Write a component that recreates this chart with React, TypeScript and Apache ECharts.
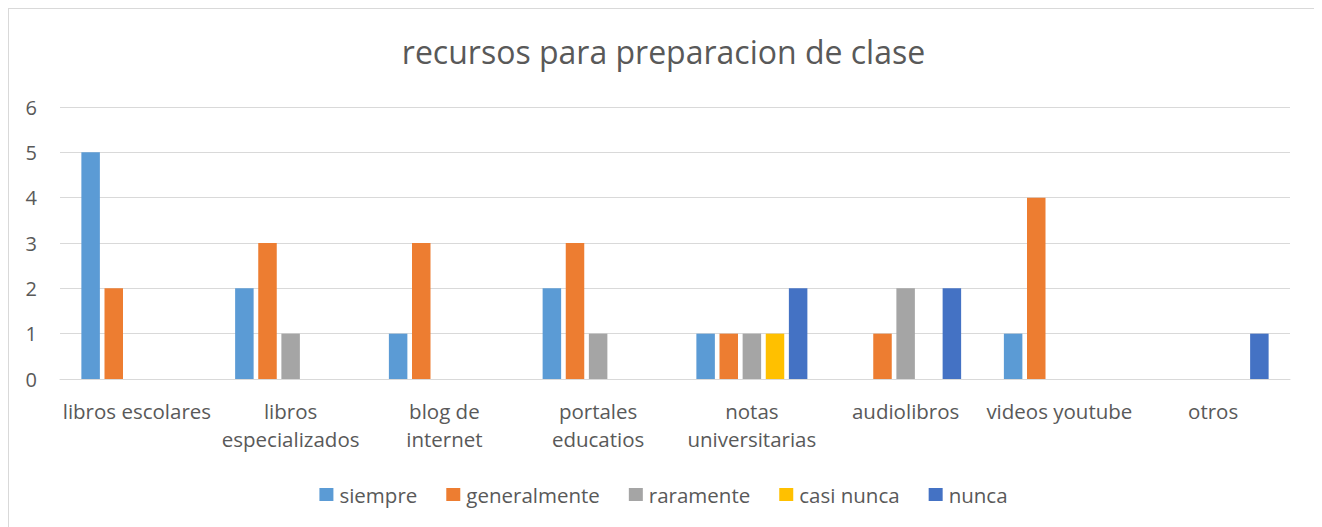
import React, { useEffect, useRef } from "react";
import * as echarts from "echarts";

const TITLE = "recursos para preparacion de clase";
const categories = [
  "libros escolares",
  "libros\nespecializados",
  "blog de\ninternet",
  "portales\neducatios",
  "notas\nuniversitarias",
  "audiolibros",
  "videos youtube",
  "otros",
];
const seriesNames = ["siempre", "generalmente", "raramente", "casi nunca", "nunca"];
const siempre = [5, 2, 1, 2, 1, 0, 1, 0];
const generalmente = [2, 3, 3, 3, 1, 1, 4, 0];
const raramente = [0, 1, 0, 1, 1, 2, 0, 0];
const casiNunca = [0, 0, 0, 0, 1, 0, 0, 0];
const nunca = [0, 0, 0, 0, 2, 2, 0, 1];
const colors = ["#5B9BD5", "#ED7D31", "#A5A5A5", "#FFC000", "#4472C4"];

const FONT = "'Open Sans', sans-serif";
const TEXT = "#595959";

export default function App() {
  const ref = useRef<HTMLDivElement>(null);
  useEffect(() => {
    document.body.style.overflow = "hidden";
    const chart = echarts.init(ref.current!, null, { renderer: "svg" });
    const values = [siempre, generalmente, raramente, casiNunca, nunca];
    chart.setOption({
      animation: false,
      color: colors,
      textStyle: { fontFamily: FONT },
      title: {
        text: TITLE,
        left: "center",
        top: 22,
        padding: 0,
        textStyle: { fontFamily: FONT, fontSize: 32, lineHeight: 40, fontWeight: "normal", color: TEXT },
      },
      legend: {
        top: 475,
        left: "center",
        padding: 0,
        itemWidth: 14,
        itemHeight: 13,
        itemGap: 29,
        icon: "rect",
        textStyle: { fontFamily: FONT, fontSize: 20.5, lineHeight: 20, color: TEXT, padding: [0, 0, 0, 1] },
        data: seriesNames,
      },
      grid: { left: 51, top: 98, width: 1230, height: 272, containLabel: false },
      xAxis: {
        type: "category",
        data: categories,
        axisLine: { lineStyle: { color: "#D9D9D9" } },
        axisTick: { show: false },
        axisLabel: { color: TEXT, fontSize: 20.5, fontFamily: FONT, lineHeight: 28, margin: 18, interval: 0 },
      },
      yAxis: {
        type: "value",
        min: 0,
        max: 6,
        interval: 1,
        axisLine: { show: false },
        axisTick: { show: false },
        splitLine: { lineStyle: { color: "#D9D9D9" } },
        axisLabel: { color: TEXT, fontSize: 20, fontFamily: FONT, margin: 23 },
      },
      series: seriesNames.map((name, i) => ({
        name,
        type: "bar",
        data: values[i],
        barWidth: 18.5,
        barGap: "25%",
        itemStyle: { color: colors[i] },
      })),
    });
    return () => chart.dispose();
  }, []);
  return (
    <div style={{ width: 1309, height: 530, border: "1px solid #D9D9D9" }}>
      <div ref={ref} style={{ width: 1309, height: 530 }} />
    </div>
  );
}
